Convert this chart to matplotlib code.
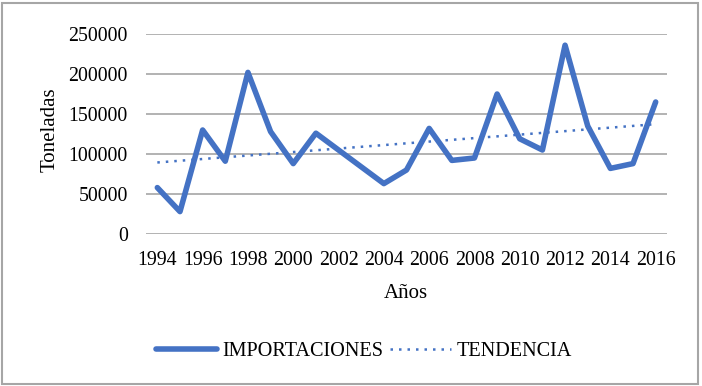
import matplotlib
matplotlib.use("Agg")
import matplotlib.pyplot as plt
import numpy as np
from matplotlib.patches import Rectangle

years = list(range(1994, 2017))
importaciones = [58000, 28000, 130000, 91000, 202000, 128000, 88000, 126000,
                 105000, 84000, 63000, 80000, 132000, 92000, 95000, 175000,
                 119000, 105000, 236000, 135000, 82000, 88000, 165000]
yticks = [0, 50000, 100000, 150000, 200000, 250000]
xtick_labels = [str(y) for y in range(1994, 2017, 2)]

plt.rcParams['font.family'] = ['Liberation Serif', 'DejaVu Serif']

fig = plt.figure(figsize=(7.02, 3.86), dpi=100)
ax = fig.add_axes([146/702, 1-234/386, (667-146)/702, 200/386])

x = np.arange(len(years))
coef = np.polyfit(x, importaciones, 1)
trend = np.polyval(coef, x)

blue = '#4472C4'
ax.plot(x, importaciones, color=blue, lw=4, solid_joinstyle='round',
        solid_capstyle='round', label='IMPORTACIONES', zorder=3)
ax.plot(x, trend, color=blue, lw=1.8, linestyle=(0, (1, 2.4)),
        label='TENDENCIA', zorder=3)

ax.set_xlim(-0.5, len(years) - 0.5)
ax.set_ylim(0, 250000)
ax.set_yticks(yticks)
ax.set_yticklabels([str(v) for v in yticks])
ax.set_xticks(x[::2])
ax.set_xticklabels(xtick_labels)
ax.grid(axis='y', color='#A6A6A6', lw=1.2)
ax.set_axisbelow(True)
for s in ax.spines.values():
    s.set_visible(False)
ax.tick_params(axis='both', length=0, labelsize=14.3)
ax.tick_params(axis='y', pad=13)
ax.tick_params(axis='x', pad=12)

fig.text(50/702, 1-130/386, 'Toneladas', rotation=90, ha='center', va='center', fontsize=15)
fig.text(406/702, 1-294/386, 'Años', ha='center', va='center', fontsize=15)

fig.legend(loc='center', bbox_to_anchor=(364/702, 1-351/386), ncol=2, frameon=False,
           fontsize=14.6, handlelength=3.0, handletextpad=0.25, columnspacing=0.35)

fig.patches.append(Rectangle((2/702, 2/386), 696/702, 381/386, transform=fig.transFigure,
                             fill=False, edgecolor='#A6A6A6', lw=1.5))

fig.savefig('out.png', dpi=100)
